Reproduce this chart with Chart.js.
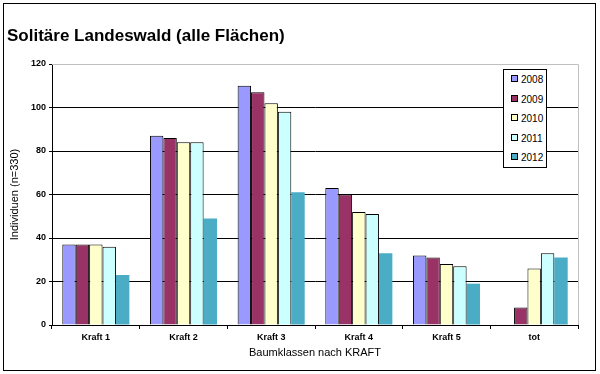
<!DOCTYPE html>
<html>
<head>
<meta charset="utf-8">
<script src="https://cdn.jsdelivr.net/npm/chart.js@4"></script>
<style>
  body { margin: 0; background: #fff; }
  #wrap { position: relative; width: 600px; height: 374px; }
  #title {
    position: absolute; left: 7px; top: 26px;
    font: bold 17px "Liberation Sans", Arial, sans-serif; color: #000;
  }
  #legend {
    position: absolute; left: 503px; top: 69px; width: 42px; height: 97px;
    border: 1px solid #000; background: #fff;
    font: 10px "Liberation Sans", Arial, sans-serif; color: #000;
  }
  #legend div { position: absolute; left: 7px; height: 12px; line-height: 12px; }
  #legend span {
    display: inline-block; width: 5px; height: 5px; border: 1px solid #000;
    margin-right: 3px; vertical-align: 1px;
  }
</style>
</head>
<body>
<div id="wrap">
  <canvas id="chart" width="600" height="374"></canvas>
  <div id="title">Solitäre Landeswald (alle Flächen)</div>
  <div id="legend"></div>
</div>
<script>
// Categories and series
const categories = ['Kraft 1', 'Kraft 2', 'Kraft 3', 'Kraft 4', 'Kraft 5', 'tot'];
const years = ['2008', '2009', '2010', '2011', '2012'];
const values2008 = [37, 87, 110, 63, 32, 0];
const values2009 = [37, 86, 107, 60, 31, 8];
const values2010 = [37, 84, 102, 52, 28, 26];
const values2011 = [36, 84, 98, 51, 27, 33];
const values2012 = [23, 49, 61, 33, 19, 31];
const yTicks = [0, 20, 40, 60, 80, 100, 120];

// Excel 2003 style palette
const COLORS = ['#9999ff', '#993366', '#ffffcc', '#ccffff', '#4bacc6'];
const BORDERS = ['#000', '#000', '#000', '#000', '#4bacc6'];

const FONT = '"Liberation Sans", Arial, sans-serif';

const series = [values2008, values2009, values2010, values2011, values2012];
const datasets = series.map((vals, i) => ({
    label: years[i],
    data: vals,
    backgroundColor: COLORS[i],
    borderColor: BORDERS[i],
    borderWidth: i < 4 ? 1 : 0,
    categoryPercentage: 0.765,
    barPercentage: 1.0
}));

// frame + plot area border
const framePlugin = {
    id: 'frame',
    afterDraw(chart) {
        const { ctx, chartArea: a } = chart;
        ctx.save();
        ctx.lineWidth = 1;
        ctx.strokeStyle = '#c0c0c0';
        ctx.beginPath();
        ctx.moveTo(a.left, a.top + 0.5);
        ctx.lineTo(a.right + 0.5, a.top + 0.5);
        ctx.lineTo(a.right + 0.5, a.bottom);
        ctx.stroke();
        ctx.strokeStyle = '#000';
        ctx.strokeRect(3.5, 3.5, 592, 367);
        ctx.restore();
    }
};

new Chart(document.getElementById('chart'), {
    type: 'bar',
    data: { labels: categories, datasets: datasets },
    options: {
        responsive: false,
        animation: false,
        layout: { padding: { left: 0, right: 22, top: 64, bottom: 0 } },
        plugins: {
            legend: { display: false },
            tooltip: { enabled: false }
        },
        scales: {
            x: {
                afterFit(scale) { scale.height = 49; },
                grid: {
                    display: true,
                    drawOnChartArea: false,
                    drawTicks: true,
                    tickLength: 4,
                    color: '#000'
                },
                border: { display: true, color: '#000', width: 1 },
                ticks: {
                    padding: 3,
                    color: '#000',
                    font: { family: FONT, size: 9, weight: 'bold' }
                },
                title: {
                    display: true,
                    text: 'Baumklassen nach KRAFT',
                    color: '#000',
                    font: { family: FONT, size: 11 },
                    padding: { top: 0, bottom: 14 }
                }
            },
            y: {
                min: 0,
                max: 120,
                afterFit(scale) { scale.width = 52; },
                afterBuildTicks(scale) { scale.ticks = yTicks.map(v => ({ value: v })); },
                grid: {
                    color: ctx => ctx.tick && ctx.tick.value === 120 ? '#c0c0c0' : '#000',
                    tickColor: '#000',
                    tickLength: 3
                },
                border: { display: true, color: '#000', width: 1 },
                ticks: {
                    padding: 3,
                    color: '#000',
                    font: { family: FONT, size: 9, weight: 'bold' }
                },
                title: {
                    display: true,
                    text: 'Individuen (n=330)',
                    color: '#000',
                    font: { family: FONT, size: 11 },
                    padding: { top: 8, bottom: 0 }
                }
            }
        }
    },
    plugins: [framePlugin]
});

// legend inside plot area
const legend = document.getElementById('legend');
years.forEach((y, i) => {
    const item = document.createElement('div');
    item.style.top = (4 + i * 19.5) + 'px';
    item.innerHTML = '<span style="background:' + COLORS[i] + '"></span>' + y;
    legend.appendChild(item);
});
</script>
</body>
</html>
